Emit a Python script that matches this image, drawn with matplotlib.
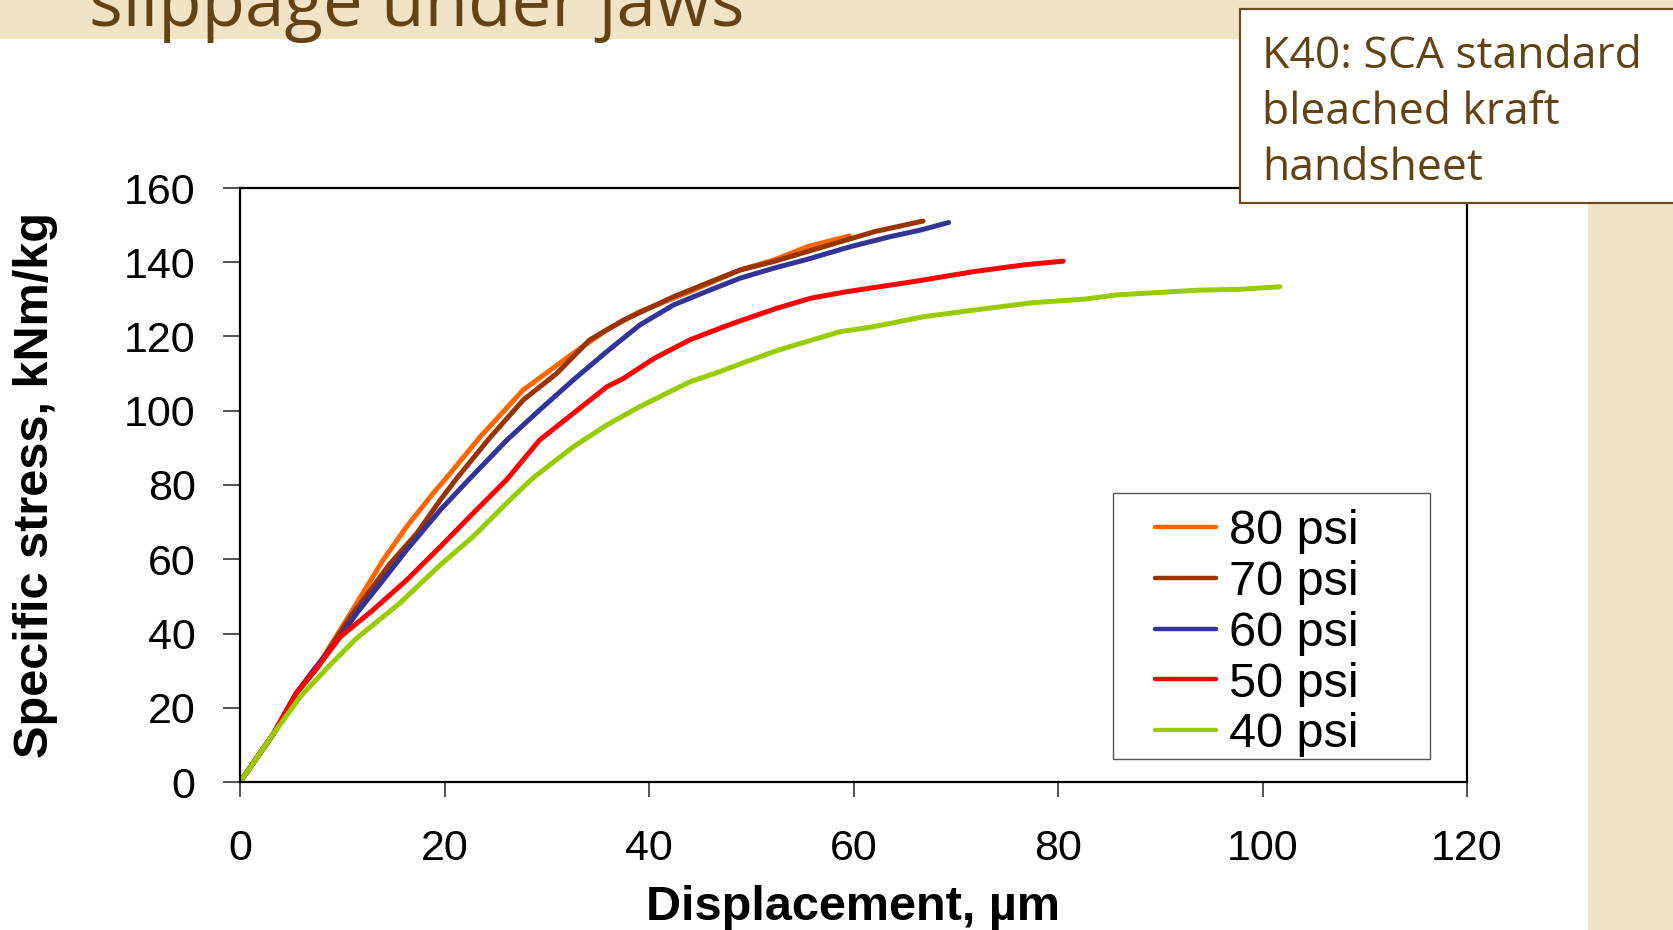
import matplotlib.pyplot as plt
from matplotlib.patches import Rectangle

# curves: displacement (um) vs specific stress (kNm/kg)
x80 = [0, 3.3, 5.5, 7.5, 10.8, 14.0, 16.3, 18.9, 20.0, 23.5, 27.7, 32.6, 35.9, 39.1, 44.0, 48.9, 52.2, 55.5, 59.6]
y80 = [0, 13.1, 23.9, 30.8, 45.4, 59.8, 68.8, 77.8, 81.3, 93.0, 105.6, 115.5, 121.8, 126.7, 132.1, 137.9, 140.6, 144.2, 147.1]

x70 = [0, 3.3, 5.5, 7.5, 10.8, 14.7, 17.3, 19.6, 21.2, 24.4, 27.7, 31.0, 34.2, 37.5, 42.4, 45.6, 48.9, 52.2, 57.1, 62.0, 66.8]
y70 = [0, 13.1, 23.9, 30.6, 44.5, 58.9, 67.0, 76.0, 81.8, 92.6, 102.9, 110.1, 119.1, 124.4, 130.7, 134.3, 137.9, 140.2, 144.2, 148.2, 151.1]

x60 = [0, 3.3, 5.5, 7.2, 9.8, 11.4, 14.0, 16.3, 19.6, 22.5, 26.1, 29.3, 32.6, 35.9, 39.1, 42.4, 45.6, 48.9, 52.2, 55.5, 59.7, 63.6, 66.6, 69.3]
y60 = [0, 13.1, 23.9, 30.2, 39.1, 45.4, 54.4, 62.5, 73.3, 81.8, 92.1, 100.2, 108.3, 116.0, 123.1, 128.5, 132.1, 135.7, 138.4, 140.8, 144.2, 146.9, 148.7, 150.7]

x50 = [0, 3.3, 5.5, 7.5, 9.8, 13.0, 16.3, 19.6, 22.8, 26.1, 29.3, 32.6, 35.9, 37.5, 40.5, 44.0, 47.3, 48.9, 52.5, 55.8, 59.4, 65.9, 71.8, 76.7, 80.5]
y50 = [0, 13.1, 23.9, 30.6, 39.1, 46.3, 54.4, 63.4, 72.4, 81.5, 92.1, 99.3, 106.5, 108.7, 114.1, 119.1, 122.6, 124.2, 127.6, 130.3, 132.1, 134.8, 137.5, 139.3, 140.3]

x40 = [0, 3.3, 5.9, 8.8, 11.4, 15.6, 19.6, 22.8, 26.7, 28.7, 32.6, 35.9, 39.1, 44.0, 46.9, 48.9, 52.2, 53.8, 58.7, 61.9, 66.8, 71.7, 77.5, 82.7, 85.7, 93.9, 97.7, 101.7]
y40 = [0, 13.1, 23.0, 31.5, 38.7, 48.1, 58.5, 66.1, 76.8, 82.0, 90.3, 96.2, 101.1, 107.8, 110.5, 112.6, 115.9, 117.3, 121.3, 122.6, 125.3, 127.1, 129.1, 130.1, 131.2, 132.5, 132.7, 133.4]

labels = ["80 psi", "70 psi", "60 psi", "50 psi", "40 psi"]
colors = ["#FF6600", "#993300", "#333399", "#FF0000", "#99CC00"]
xticks = [0, 20, 40, 60, 80, 100, 120]
yticks = [0, 20, 40, 60, 80, 100, 120, 140, 160]

title = "slippage under jaws"
note_lines = ["K40: SCA standard", "bleached kraft", "handsheet"]

brown = "#634214"
beige = "#F1E3C6"
arial = ["Liberation Sans", "DejaVu Sans"]
tahoma = ["Open Sans", "DejaVu Sans"]

fig = plt.figure(figsize=(16.73, 9.30), dpi=100)
fig.patch.set_facecolor("white")

# slide background strips
fig.patches.append(Rectangle((0, 1 - 39 / 930), 1, 39 / 930, transform=fig.transFigure,
                             facecolor=beige, edgecolor="none", zorder=0))
fig.patches.append(Rectangle((1588 / 1673, 0), 1 - 1588 / 1673, 1, transform=fig.transFigure,
                             facecolor=beige, edgecolor="none", zorder=0))
# slide title, cut off at the top like on the slide
fig.text(89 / 1673, 1 - 26 / 930, title, fontsize=51, color=brown, family=tahoma,
         ha="left", va="baseline")

ax = fig.add_axes([240 / 1673, 148 / 930, 1227 / 1673, 594 / 930])
ax.set_facecolor("white")

for xs, ys, lab, c in zip([x80, x70, x60, x50, x40], [y80, y70, y60, y50, y40], labels, colors):
    ax.plot(xs, ys, color=c, lw=3.6, label=lab, solid_capstyle="round")

ax.set_xlim(0, 120)
ax.set_ylim(0, 160)
ax.set_xticks(xticks)
ax.set_yticks(yticks)
ax.set_xticklabels([str(v) for v in xticks], family=arial, fontsize=31)
ax.set_yticklabels([str(v) for v in yticks], family=arial, fontsize=31)
ax.tick_params(axis="x", direction="out", length=11, width=1.2, color="#333333", pad=23)
ax.tick_params(axis="y", direction="out", length=12, width=1.2, color="#333333", pad=20)
for s in ax.spines.values():
    s.set_linewidth(1.6)
    s.set_color("black")

ax.set_xlabel("Displacement, µm", family=arial, fontsize=35, fontweight="bold")
ax.xaxis.label.set_va("center")
ax.xaxis.set_label_coords(0.5, (782 - 907) / 594)
ax.set_ylabel("Specific stress, kNm/kg", family=arial, fontsize=35, fontweight="bold")
ax.yaxis.label.set_va("center")
ax.yaxis.set_label_coords((36 - 240) / 1227, 0.5)

# legend box drawn separately: its side padding is much wider than the top/bottom one
ax.add_patch(Rectangle((1113 / 1673, 1 - 759 / 930), 317 / 1673, 266 / 930,
                       transform=fig.transFigure, facecolor="white",
                       edgecolor="#555555", linewidth=1.0, zorder=4))
leg = ax.legend(loc="upper left", bbox_to_anchor=(1155 / 1673, 1 - 509 / 930),
                bbox_transform=fig.transFigure, borderaxespad=0, borderpad=0,
                prop={"family": arial, "size": 35}, handlelength=1.25, handletextpad=0.28,
                labelspacing=0.12, frameon=False)
leg.set_zorder(6)
for h in leg.get_lines():
    h.set_linewidth(3.2)

# note box at the top right
fig.patches.append(Rectangle((1240 / 1673, 1 - 203 / 930), 0.3, 194 / 930, transform=fig.transFigure,
                             facecolor="white", edgecolor="#6B4C1E", linewidth=1.6, zorder=3))
for i, line in enumerate(note_lines):
    fig.text(1262 / 1673, 1 - (68 + 56 * i) / 930, line, fontsize=32, color=brown, family=tahoma,
             ha="left", va="baseline", zorder=4)

fig.savefig("out.png", dpi=100, facecolor=fig.get_facecolor())
